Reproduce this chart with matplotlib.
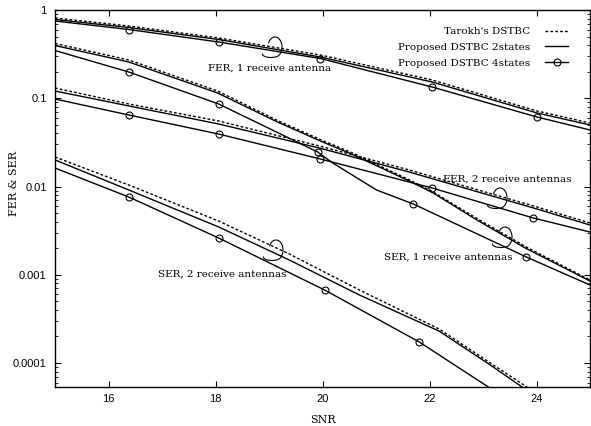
import numpy as np
import matplotlib
matplotlib.use("Agg")
import matplotlib.pyplot as plt
from matplotlib.lines import Line2D
from matplotlib.ticker import LogLocator, FixedLocator, FuncFormatter, NullFormatter

# ---------------- data ----------------
# FER, 1 receive antenna
snr_fer1 = [15, 16.38, 18.06, 19.96, 22.05, 24.01, 25]
fer1_tarokh = [0.8115, 0.6587, 0.4817, 0.3091, 0.1610, 0.0717, 0.0524]
fer1_2st = [0.7804, 0.6334, 0.4632, 0.2934, 0.1528, 0.0681, 0.0498]
fer1_4st = [0.7506, 0.6012, 0.4339, 0.2821, 0.1341, 0.0613, 0.0437]

# SER, 1 receive antenna
snr_ser1 = [15, 16.38, 18.04, 19.14, 19.98, 20.56, 21.62, 22.07, 22.87, 23.81, 25]
ser1_tarokh = [0.4173, 0.2713, 0.1208, 0.0567, 0.0336, 0.0240, 0.0119, 0.00866, 0.00440, 0.00206, 0.000872]
ser1_2st = [0.396, 0.2575, 0.1147, 0.0545, 0.0324, 0.0231, 0.01155, 0.00844, 0.00423, 0.00198, 0.00085]
snr_ser1_4 = [15, 16.38, 18.06, 19.91, 20.19, 21.01, 21.70, 23.81, 25]
ser1_4st = [0.3476, 0.1983, 0.0861, 0.0246, 0.0185, 0.00913, 0.00633, 0.00159, 0.000765]

# FER, 2 receive antennas
snr_fer2 = [15, 16.38, 18.06, 19.94, 21.62, 24.01, 25]
fer2_tarokh = [0.1306, 0.0861, 0.0552, 0.0288, 0.0154, 0.00586, 0.00386]
fer2_2st = [0.1208, 0.0818, 0.0511, 0.0273, 0.0146, 0.00556, 0.00366]
snr_fer2_4 = [15, 16.38, 18.06, 19.96, 22.05, 23.94, 25]
fer2_4st = [0.0981, 0.0646, 0.0393, 0.0205, 0.00962, 0.00440, 0.00305]

# SER, 2 receive antennas
snr_ser2_t = [15, 16.38, 18.06, 19.38, 20.69, 22.18, 23.11, 23.82, 24.42]
ser2_tarokh = [0.0216, 0.0104, 0.00406, 0.00172, 0.000672, 0.000243, 0.0001026, 0.0000535, 0.0000293]
snr_ser2_2 = [15, 16.38, 18.06, 19.38, 20.69, 22.18, 23.11, 23.73, 24.33]
ser2_2st = [0.0200, 0.00913, 0.00348, 0.00147, 0.000590, 0.000230, 0.0000974, 0.0000535, 0.0000293]
snr_ser2_4 = [15, 16.38, 18.06, 20.04, 21.81, 23.10, 23.68]
ser2_4st = [0.0162, 0.00760, 0.00261, 0.000672, 0.000173, 0.0000535, 0.0000317]

x_ticks = [16, 18, 20, 22, 24]
y_ticks = [1, 0.1, 0.01, 0.001, 0.0001]
legend_labels = ["Tarokh's DSTBC", "Proposed DSTBC 2states", "Proposed DSTBC 4states"]
group_labels = ["FER, 1 receive antenna", "FER, 2 receive antennas",
                "SER, 1 receive antennas", "SER, 2 receive antennas"]

# ---------------- figure ----------------
W, H = 591, 426
fig = plt.figure(figsize=(W / 100, H / 100), dpi=100)
ax_l, ax_r, ax_t, ax_b = 55, 590, 10, 387
ax = fig.add_axes([ax_l / W, 1 - ax_b / H, (ax_r - ax_l) / W, (ax_b - ax_t) / H])

serif = ["DejaVu Serif"]
sans = ["Liberation Sans", "DejaVu Sans"]

dash = (0, (2.0, 1.5))
lw = 1.0
kw_t = dict(color="k", lw=lw, ls=dash)
kw_2 = dict(color="k", lw=lw, ls="-")
kw_4 = dict(color="k", lw=lw, ls="-", marker="o", ms=5, mfc="none", mew=0.8)

ax.plot(snr_fer1, fer1_tarokh, **kw_t)
ax.plot(snr_fer1, fer1_2st, **kw_2)
ax.plot(snr_fer1, fer1_4st, markevery=[1, 2, 3, 4, 5], **kw_4)

ax.plot(snr_ser1, ser1_tarokh, **kw_t)
ax.plot(snr_ser1, ser1_2st, **kw_2)
ax.plot(snr_ser1_4, ser1_4st, markevery=[1, 2, 3, 6, 7], **kw_4)

ax.plot(snr_fer2, fer2_tarokh, **kw_t)
ax.plot(snr_fer2, fer2_2st, **kw_2)
ax.plot(snr_fer2_4, fer2_4st, markevery=[1, 2, 3, 4, 5], **kw_4)

ax.plot(snr_ser2_t, ser2_tarokh, **kw_t)
ax.plot(snr_ser2_2, ser2_2st, **kw_2)
ax.plot(snr_ser2_4, ser2_4st, markevery=[1, 2, 3, 4], **kw_4)

ax.set_yscale("log")
ax.set_xlim(15, 25)
ax.set_ylim(5.35e-5, 1)

ax.xaxis.set_major_locator(FixedLocator(x_ticks))
ax.yaxis.set_major_locator(FixedLocator(y_ticks))
ax.yaxis.set_major_formatter(FuncFormatter(lambda v, p: "%g" % v))
ax.yaxis.set_minor_locator(LogLocator(base=10, subs=np.arange(2, 10)))
ax.yaxis.set_minor_formatter(NullFormatter())

ax.tick_params(axis="both", which="both", direction="in", top=True, right=True, color="k")
ax.tick_params(axis="both", which="major", length=4, width=0.8)
ax.tick_params(axis="y", which="minor", length=2, width=0.6)
ax.tick_params(axis="x", which="major", pad=5)
ax.tick_params(axis="y", which="major", pad=6)
for lab in ax.get_xticklabels() + ax.get_yticklabels():
    lab.set_fontfamily(sans)
    lab.set_fontsize(8)
for s in ax.spines.values():
    s.set_linewidth(1.0)

# axis titles
pw, ph = ax_r - ax_l, ax_b - ax_t
def fx(px):
    return (px - ax_l) / pw
def fy(py):
    return (ax_b - py) / ph

ax.text(fx(14), fy(183), "FER & SER", rotation=90, ha="center", va="center",
        transform=ax.transAxes, fontsize=8, family=serif)
ax.text(0.5, fy(420), "SNR", ha="center", va="center",
        transform=ax.transAxes, fontsize=8, family=serif)

# group annotations
label_pos = [(270, 68), (507, 179.5), (448, 257), (222, 274)]
for txt, (px, py) in zip(group_labels, label_pos):
    ax.text(fx(px), fy(py), txt, ha="center", va="center", transform=ax.transAxes,
            fontsize=7.5, family=serif)

# curls: open loop over the top/right with a tail running back along the bottom
def curl(cx, cy, rx=7, ry=10):
    th = np.radians(np.linspace(155, -90, 70))
    xs = list(rx * np.cos(th))
    ys = list(ry * np.sin(th))
    xs += [-4, -9, -12, -12.5]
    ys += [-ry - 0.6, -ry, -ry + 1.5, -ry + 3]
    X = np.array(xs)
    Y = np.array(ys)
    ax.plot(fx(cx) + X / pw, fy(cy) + Y / ph, color="k", lw=0.8,
            transform=ax.transAxes, clip_on=False)

curl(275, 47)
curl(500, 198)
curl(505, 237)
curl(276, 250)

# legend
handles = [Line2D([], [], **kw_t), Line2D([], [], **kw_2), Line2D([], [], **kw_4)]
leg = ax.legend(handles, legend_labels, loc="upper right", bbox_to_anchor=(fx(568), fy(27)),
                frameon=False, markerfirst=False, handlelength=2.2, handletextpad=1.4,
                labelspacing=0.62, borderpad=0, borderaxespad=0,
                prop={"family": serif, "size": 7.5})

fig.savefig("out.png", dpi=100)
